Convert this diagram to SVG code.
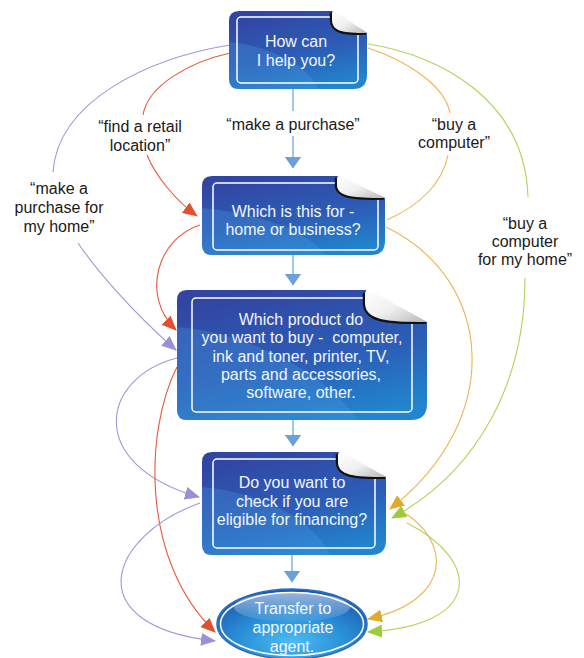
<svg xmlns="http://www.w3.org/2000/svg" xmlns:xlink="http://www.w3.org/1999/xlink" width="584" height="658" viewBox="0 0 584 658">
<style>
.lbl{font-family:"Liberation Sans",Arial,sans-serif;font-size:16px;fill:#1a1a1a;text-anchor:middle}
.nt{font-family:"Liberation Sans",Arial,sans-serif;font-size:16px;fill:#f2f6ff;text-anchor:middle}
.box{fill:url(#gBox)}
.sw{fill:#4a9ae0;opacity:0.3}
.inner{fill:none;stroke:#ffffff;stroke-width:1.5}
.curl{fill:url(#gCurl)}
.shadow{fill:none;stroke:#111;stroke-width:2.5;stroke-linecap:round}
.c{fill:none;stroke-width:1.1}
.pu{stroke:#a097d8}
.rd{stroke:#e8593c}
.or{stroke:#efb352}
.gr{stroke:#aed45a}
.bl{stroke:#8db7e2;stroke-width:1.6;fill:none}
</style>
<defs>
<linearGradient id="gBox" x1="0.3" y1="0" x2="0.7" y2="1">
<stop offset="0" stop-color="#3146a3"/>
<stop offset="0.55" stop-color="#2c5db6"/>
<stop offset="1" stop-color="#2186cf"/>
</linearGradient>
<linearGradient id="gCurl" x1="0" y1="0" x2="1" y2="1">
<stop offset="0" stop-color="#ffffff"/>
<stop offset="0.5" stop-color="#f0f0f0"/>
<stop offset="1" stop-color="#b8b8b8"/>
</linearGradient>
<radialGradient id="gEll" cx="0.5" cy="0.75" r="0.7">
<stop offset="0" stop-color="#4cbcf0"/>
<stop offset="0.5" stop-color="#2a90d8"/>
<stop offset="1" stop-color="#1c5cb2"/>
</radialGradient>
<linearGradient id="gHi" x1="0" y1="0" x2="0" y2="1">
<stop offset="0" stop-color="#ffffff" stop-opacity="0.55"/>
<stop offset="1" stop-color="#ffffff" stop-opacity="0.05"/>
</linearGradient>
<path id="b1" d="M239,11 H332 L367,33 V75 Q367,89 353,89 H239 Q229,89 229,79 V21 Q229,11 239,11 Z"/>
<path id="b2" d="M212,176 H337 L385,198 V241 Q385,255 371,255 H212 Q202,255 202,245 V186 Q202,176 212,176 Z"/>
<path id="b3" d="M187,290 H365 L427,322 V404 Q427,420 411,420 H187 Q177,420 177,410 V300 Q177,290 187,290 Z"/>
<path id="b4" d="M212,452 H338 L386,477 V540 Q386,555 371,555 H212 Q202,555 202,545 V462 Q202,452 212,452 Z"/>
<clipPath id="c1"><use xlink:href="#b1"/></clipPath>
<clipPath id="c2"><use xlink:href="#b2"/></clipPath>
<clipPath id="c3"><use xlink:href="#b3"/></clipPath>
<clipPath id="c4"><use xlink:href="#b4"/></clipPath>
<marker id="mPu" markerUnits="userSpaceOnUse" markerWidth="15" markerHeight="13" viewBox="0 0 15 13" refX="14" refY="6.5" orient="auto"><path d="M0,0 L15,6.5 L0,13 Z" fill="#9c8fd6"/></marker>
<marker id="mRd" markerUnits="userSpaceOnUse" markerWidth="15" markerHeight="13" viewBox="0 0 15 13" refX="14" refY="6.5" orient="auto"><path d="M0,0 L15,6.5 L0,13 Z" fill="#e4502e"/></marker>
<marker id="mOr" markerUnits="userSpaceOnUse" markerWidth="15" markerHeight="13" viewBox="0 0 15 13" refX="14" refY="6.5" orient="auto"><path d="M0,0 L15,6.5 L0,13 Z" fill="#dfaa2e"/></marker>
<marker id="mGr" markerUnits="userSpaceOnUse" markerWidth="15" markerHeight="13" viewBox="0 0 15 13" refX="14" refY="6.5" orient="auto"><path d="M0,0 L15,6.5 L0,13 Z" fill="#9ccb3c"/></marker>
<marker id="mBl" markerUnits="userSpaceOnUse" markerWidth="12" markerHeight="17" viewBox="0 0 12 17" refX="11.5" refY="8.5" orient="auto"><path d="M0,0 L12,8.5 L0,17 Z" fill="#6d9fd8"/></marker>
</defs>
<rect width="584" height="658" fill="#ffffff"/>

<g id="connectors">
<path class="bl" d="M293,89 V111"/>
<path class="bl" d="M293,136 V168" marker-end="url(#mBl)"/>
<path class="bl" d="M293,255 V285" marker-end="url(#mBl)"/>
<path class="bl" d="M293,420 V446" marker-end="url(#mBl)"/>
<path class="bl" d="M292,555 V582" marker-end="url(#mBl)"/>
<path class="c pu" d="M230,45 C150,58 58,100 53,172"/>
<path class="c pu" d="M78,243 C95,268 130,310 176,350" marker-end="url(#mPu)"/>
<path class="c rd" d="M230,53 C190,62 148,85 143,115"/>
<path class="c rd" d="M147,155 C155,175 175,200 197,216" marker-end="url(#mRd)"/>
<path class="c rd" d="M200,225 C158,238 140,295 176,330" marker-end="url(#mRd)"/>
<path class="c pu" d="M177,358 C100,378 85,465 199,497" marker-end="url(#mPu)"/>
<path class="c rd" d="M177,367 C145,430 140,560 215,632" marker-end="url(#mRd)"/>
<path class="c pu" d="M200,503 C110,535 75,625 215,641" marker-end="url(#mPu)"/>
<path class="c or" d="M368,48 C405,60 445,85 450,113"/>
<path class="c or" d="M448,155 C442,185 420,205 387,220"/>
<path class="c or" d="M386,227 C495,280 505,420 390,509" marker-end="url(#mOr)"/>
<path class="c gr" d="M368,44 C440,55 525,100 528,197"/>
<path class="c gr" d="M525,278 C525,380 480,470 392,518" marker-end="url(#mGr)"/>
<path class="c or" d="M403,512 C450,540 455,600 368,619" marker-end="url(#mOr)"/>
<path class="c gr" d="M407,523 C480,560 485,625 368,632" marker-end="url(#mGr)"/>
</g>

<g id="labels">
<text class="lbl" x="293" y="130">“make a purchase”</text>
<text class="lbl" x="140" y="132">“find a retail</text>
<text class="lbl" x="140" y="151">location”</text>
<text class="lbl" x="59" y="194">“make a</text>
<text class="lbl" x="59" y="213">purchase for</text>
<text class="lbl" x="59" y="232">my home”</text>
<text class="lbl" x="454" y="130">“buy a</text>
<text class="lbl" x="454" y="148">computer”</text>
<text class="lbl" x="525" y="229">“buy a</text>
<text class="lbl" x="525" y="247">computer</text>
<text class="lbl" x="525" y="265">for my home”</text>
</g>

<g id="n1">
<use xlink:href="#b1" class="box"/>
<path class="sw" clip-path="url(#c1)" d="M229,42 C270,46 310,66 318,89 H229 Z"/>
<rect class="inner" x="237" y="17" width="121" height="66" rx="4"/>
<path class="shadow" d="M331,13.6 L331,19.8 C331,32.6 344.3,34.3 365,33.6"/>
<path class="curl" d="M334.8,11 L367,33 C344.25,33 332,31.9 332,19.8 L332,13.6 Q332,11 334.8,11 Z"/>
<text class="nt" x="296" y="47">How can</text>
<text class="nt" x="296" y="66">I help you?</text>
</g>

<g id="n2">
<use xlink:href="#b2" class="box"/>
<path class="sw" clip-path="url(#c2)" d="M202,208 C255,212 310,232 325,255 H202 Z"/>
<rect class="inner" x="213" y="183" width="165" height="67" rx="4"/>
<path class="shadow" d="M336,178.6 L336,184.8 C336,197.6 353.8,199.3 383,198.6"/>
<path class="curl" d="M340.8,176 L385,198 C353.8,198 337,196.9 337,184.8 L337,178.6 Q337,176 340.8,176 Z"/>
<text class="nt" x="293" y="217">Which is this for -</text>
<text class="nt" x="293" y="235">home or business?</text>
</g>

<g id="n3">
<use xlink:href="#b3" class="box"/>
<path class="sw" clip-path="url(#c3)" d="M177,327 C250,333 330,375 357,420 H177 Z"/>
<rect class="inner" x="192" y="298" width="220" height="114" rx="4"/>
<path class="shadow" d="M364,293.8 L364,302.8 C364,321.4 386.7,323.7 425,322.7"/>
<path class="curl" d="M370,290 L427,322 C386.7,322 365,320.4 365,302.8 L365,293.8 Q365,290 370,290 Z"/>
<text class="nt" x="301" y="325">Which product do</text>
<text class="nt" x="302" y="343" xml:space="preserve">you want to buy -  computer,</text>
<text class="nt" x="301" y="362">ink and toner, printer, TV,</text>
<text class="nt" x="301" y="380">parts and accessories,</text>
<text class="nt" x="301" y="398">software, other.</text>
</g>

<g id="n4">
<use xlink:href="#b4" class="box"/>
<path class="sw" clip-path="url(#c4)" d="M202,487 C260,492 315,520 330,555 H202 Z"/>
<rect class="inner" x="213" y="459" width="162" height="89" rx="4"/>
<path class="shadow" d="M337,455 L337,462 C337,476.5 354.8,478.5 384,477.7"/>
<path class="curl" d="M341.8,452 L386,477 C354.8,477 338,475.75 338,462 L338,455 Q338,452 341.8,452 Z"/>
<text class="nt" x="292" y="488">Do you want to</text>
<text class="nt" x="292" y="507">check if you are</text>
<text class="nt" x="292" y="525">eligible for financing?</text>
</g>

<g id="n5">
<ellipse cx="292" cy="624" rx="75" ry="35" fill="url(#gEll)" stroke="#2a6cc0" stroke-width="1.5"/>
<ellipse cx="292" cy="624" rx="71.5" ry="31.5" fill="none" stroke="#ffffff" stroke-width="1.5"/>
<ellipse cx="292" cy="607" rx="58" ry="15" fill="url(#gHi)"/>
<text class="nt" x="293" y="614">Transfer to</text>
<text class="nt" x="293" y="633">appropriate</text>
<text class="nt" x="292" y="652">agent.</text>
</g>
</svg>
